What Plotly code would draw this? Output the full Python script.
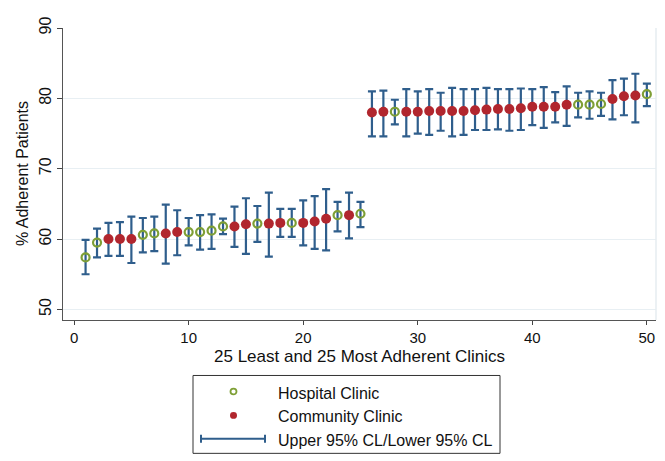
import plotly.graph_objects as go

# rank position of each clinic (1..50)
clinic_rank = list(range(1, 51))
# clinic type: H = hospital clinic, C = community clinic
clinic_type = list("HHCCCHHCCHHHHCCHCCHCCCHCH" "CCHCCCCCCCCCCCCCCCHHHCCCH")
adherence = [57.4, 59.5, 60.0, 60.0, 60.0, 60.6, 60.8, 60.8, 61.0, 61.0,
             61.0, 61.2, 61.8, 61.8, 62.1, 62.2, 62.2, 62.3, 62.3, 62.3,
             62.5, 62.9, 63.4, 63.4, 63.6,
             78.0, 78.1, 78.1, 78.1, 78.1, 78.2, 78.2, 78.2, 78.2, 78.3,
             78.4, 78.5, 78.5, 78.6, 78.8, 78.8, 78.8, 79.1, 79.1, 79.1,
             79.2, 79.9, 80.3, 80.4, 80.6]
upper_cl = [59.9, 61.5, 62.3, 62.4, 63.2, 63.0, 63.2, 64.9, 64.1, 63.0,
            63.4, 63.5, 62.9, 64.6, 65.8, 64.7, 66.6, 64.3, 64.3, 65.5,
            66.1, 67.1, 65.3, 66.6, 65.3,
            81.0, 81.1, 79.8, 81.3, 81.0, 81.3, 80.8, 81.5, 81.3, 81.3,
            81.5, 81.3, 81.3, 81.4, 81.3, 81.6, 80.9, 81.7, 80.8, 81.0,
            80.8, 82.6, 82.8, 83.5, 82.1]
lower_cl = [55.0, 57.4, 57.6, 57.6, 56.6, 58.1, 58.3, 56.5, 57.7, 59.1,
            58.5, 58.6, 60.7, 58.9, 57.9, 59.6, 57.5, 60.3, 60.3, 59.1,
            58.6, 58.4, 61.1, 60.1, 61.7,
            74.6, 74.6, 76.3, 74.6, 75.0, 74.8, 75.4, 74.6, 74.8, 75.5,
            75.5, 75.6, 75.4, 75.5, 76.2, 75.8, 76.6, 76.1, 77.3, 77.1,
            77.5, 77.0, 77.6, 76.6, 78.9]

x_ticks = [0, 10, 20, 30, 40, 50]
y_ticks = [50, 60, 70, 80, 90]
legend_labels = ["Hospital Clinic", "Community Clinic", "Upper 95% CL/Lower 95% CL"]
x_title = "25 Least and 25 Most Adherent Clinics"
y_title = "% Adherent Patients"

GREEN = "#7E9F35"
RED = "#B1262E"
BLUE = "#2F5E8C"
FONT = "Liberation Sans, Arial, sans-serif"

fig = go.Figure()

# error bars (CI)
fig.add_trace(go.Scatter(
    x=clinic_rank, y=adherence, mode="markers",
    marker=dict(size=1, color="rgba(0,0,0,0)"),
    error_y=dict(type="data", symmetric=False,
                 array=[u - a for u, a in zip(upper_cl, adherence)],
                 arrayminus=[a - l for a, l in zip(adherence, lower_cl)],
                 color=BLUE, thickness=2.2, width=4),
    hoverinfo="skip", showlegend=False))

hx = [r for r, t in zip(clinic_rank, clinic_type) if t == "H"]
hy = [a for a, t in zip(adherence, clinic_type) if t == "H"]
cx = [r for r, t in zip(clinic_rank, clinic_type) if t == "C"]
cy = [a for a, t in zip(adherence, clinic_type) if t == "C"]

fig.add_trace(go.Scatter(x=hx, y=hy, mode="markers", name=legend_labels[0],
                         marker=dict(symbol="circle-open", size=8, color=GREEN,
                                     line=dict(width=2.2, color=GREEN)),
                         showlegend=False))
fig.add_trace(go.Scatter(x=cx, y=cy, mode="markers", name=legend_labels[1],
                         marker=dict(symbol="circle", size=10, color=RED,
                                     line=dict(width=0)),
                         showlegend=False))

# page body has an 8px margin, so figure origin sits at (8, 8) in the window
shapes = []
annotations = []
shapes.append(dict(type="line", xref="paper", yref="paper", x0=1, x1=1, y0=0, y1=1,
                   line=dict(color="#E6ECF0", width=1.5)))


def py(p):
    return (320 - p) / 300


def px(p):
    return (p - 63) / 593


shapes.append(dict(type="rect", xref="paper", yref="paper", x0=px(193), x1=px(500),
                   y0=py(457), y1=py(377), line=dict(color="#333333", width=1),
                   fillcolor="white"))
rows_px = [393.5, 418, 442]
shapes.append(dict(type="circle", xref="paper", yref="paper",
                   x0=px(230.5), x1=px(236.5), y0=py(rows_px[0] + 3), y1=py(rows_px[0] - 3),
                   line=dict(color=GREEN, width=1.8)))
shapes.append(dict(type="circle", xref="paper", yref="paper",
                   x0=px(230), x1=px(237), y0=py(rows_px[1] + 3.5), y1=py(rows_px[1] - 3.5),
                   line=dict(color=RED, width=0), fillcolor=RED))
shapes.append(dict(type="line", xref="paper", yref="paper",
                   x0=px(201), x1=px(265), y0=py(rows_px[2]), y1=py(rows_px[2]),
                   line=dict(color=BLUE, width=2)))
for xe in (201, 265):
    shapes.append(dict(type="line", xref="paper", yref="paper",
                       x0=px(xe), x1=px(xe), y0=py(rows_px[2] - 4), y1=py(rows_px[2] + 4),
                       line=dict(color=BLUE, width=2)))
for lab, r in zip(legend_labels, rows_px):
    annotations.append(dict(text=lab, xref="paper", yref="paper", x=px(276),
                            y=py(r + 1.5), xanchor="left", yanchor="middle",
                            showarrow=False, font=dict(size=16, color="#111111")))
# axis titles
annotations.append(dict(text=x_title, xref="paper", yref="paper", x=0.5, y=py(357),
                        xanchor="center", yanchor="middle", showarrow=False,
                        font=dict(size=17, color="#111111")))
annotations.append(dict(text=y_title, xref="paper", yref="paper", x=px(22), y=0.5,
                        xanchor="center", yanchor="middle", textangle=-90,
                        showarrow=False, font=dict(size=16, color="#111111")))

fig.update_layout(
    width=657, height=453,
    margin=dict(l=55, r=9, t=12, b=141),
    paper_bgcolor="white", plot_bgcolor="white",
    font=dict(family=FONT, size=16, color="#111111"),
    shapes=shapes, annotations=annotations,
    xaxis=dict(range=[-0.97, 50.8], tickvals=x_ticks, ticks="outside", ticklen=4,
               tickwidth=1, tickcolor="#444444", showline=True, linecolor="#555555",
               linewidth=1.2, showgrid=False, zeroline=False,
               tickfont=dict(size=15)),
    yaxis=dict(range=[48.5, 90], tickvals=y_ticks, ticks="outside", ticklen=5,
               tickwidth=1, tickcolor="#444444", showline=True, linecolor="#555555",
               linewidth=1.2, showgrid=True, gridcolor="#E8EFF3", gridwidth=1,
               zeroline=False, tickangle=-90, tickfont=dict(size=16)),
)

fig.write_html("out.html")
